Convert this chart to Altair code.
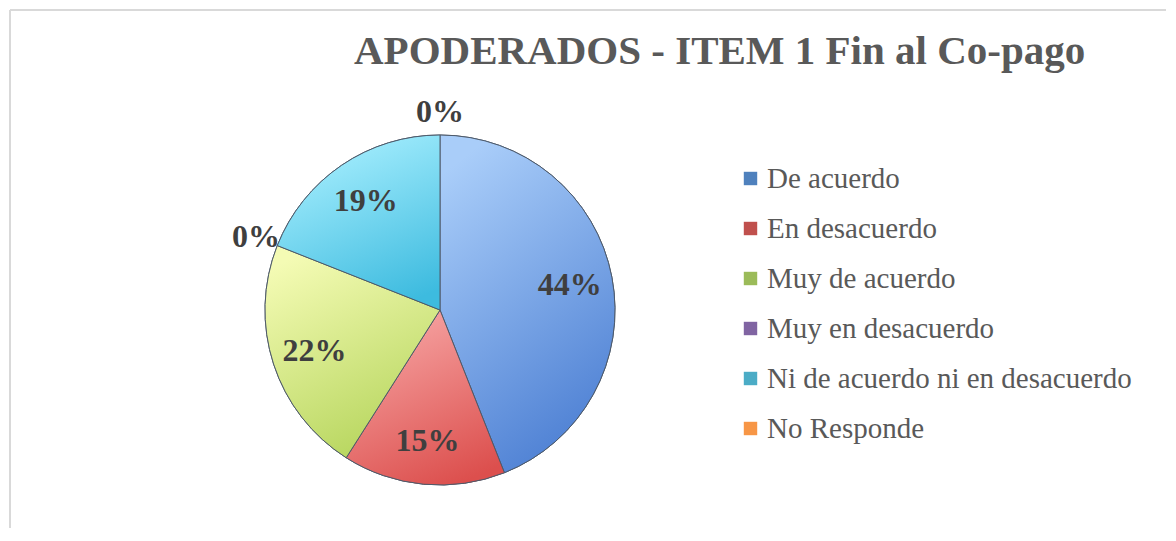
import altair as alt
import pandas as pd

categorias = [
    "De acuerdo",
    "En desacuerdo",
    "Muy de acuerdo",
    "Muy en desacuerdo",
    "Ni de acuerdo ni en desacuerdo",
    "No Responde",
]
porcentajes = [44, 15, 22, 0, 19, 0]
colores = ["#4F81BD", "#C0504D", "#9BBB59", "#8064A2", "#4BACC6", "#F79646"]
claros = ["#A9CDF9", "#F7A6A5", "#F4FBB4", "#C6B3E0", "#AAF0FF", "#FCCB9C"]
oscuros = ["#4A7DD2", "#DC4F4D", "#B4D45A", "#7E5FB0", "#3DBBDF", "#F08A30"]
titulo = "APODERADOS - ITEM 1 Fin al Co-pago"

df = pd.DataFrame({
    "categoria": categorias,
    "valor": porcentajes,
    "orden": list(range(len(categorias))),
})

CX, CY, R = 432, 302, 175
FONT = "Liberation Serif"
theta_scale = alt.Scale(domain=[0, 100])

base = alt.Chart(df).transform_window(
    fin="sum(valor)",
    sort=[alt.SortField("orden", order="ascending")],
    frame=[None, 0],
).transform_calculate(
    inicio="datum.fin - datum.valor",
    medio="datum.fin - datum.valor / 2",
    etiqueta="datum.valor + '%'",
    radio="datum.valor > 0 ? 132 : 198",
)

borde_sup = alt.Chart(df).transform_filter("datum.orden == 0").mark_rule(
    color="#D9D9D9", strokeWidth=2
).encode(x=alt.value(2), x2=alt.value(1158), y=alt.value(2))
borde_izq = alt.Chart(df).transform_filter("datum.orden == 0").mark_rule(
    color="#D9D9D9", strokeWidth=2
).encode(x=alt.value(2), y=alt.value(2), y2=alt.value(520))

solido = base.mark_arc(outerRadius=R, stroke="#4E5A6A", strokeWidth=1).encode(
    theta=alt.Theta("inicio:Q", stack=None, scale=theta_scale),
    theta2="fin:Q",
    color=alt.Color(
        "categoria:N",
        sort=categorias,
        scale=alt.Scale(domain=categorias, range=colores),
        legend=alt.Legend(
            title=None,
            orient="none",
            legendX=728,
            legendY=156,
            symbolType="square",
            symbolSize=180,
            symbolStrokeWidth=0,
            labelFont=FONT,
            labelFontSize=29,
            labelColor="#595959",
            labelOffset=2,
            labelLimit=600,
            rowPadding=20,
            padding=0,
        ),
    ),
    x=alt.value(CX),
    y=alt.value(CY),
)

degradados = []
for cat, v, c1, c2 in zip(categorias, porcentajes, claros, oscuros):
    if v <= 0:
        continue
    grad = alt.LinearGradient(
        gradient="linear",
        x1=0.3, y1=0, x2=0.7, y2=1,
        stops=[alt.GradientStop(offset=0, color=c1), alt.GradientStop(offset=1, color=c2)],
    )
    capa = base.transform_filter(alt.datum.categoria == cat).mark_arc(
        outerRadius=R, fill=grad, stroke="#4E5A6A", strokeWidth=1
    ).encode(
        theta=alt.Theta("inicio:Q", stack=None, scale=theta_scale),
        theta2="fin:Q",
        x=alt.value(CX),
        y=alt.value(CY),
    )
    degradados.append(capa)

textos = base.mark_text(
    font=FONT, fontSize=32, fontWeight="bold", color="#3F3F3F"
).encode(
    theta=alt.Theta("medio:Q", stack=None, scale=theta_scale),
    radius=alt.Radius("radio:Q", scale=None),
    text="etiqueta:N",
    x=alt.value(CX),
    y=alt.value(CY),
)

chart = alt.layer(borde_sup, borde_izq, solido, *degradados, textos).properties(
    width=1158,
    height=520,
    padding=0,
    autosize=alt.AutoSizeParams(type="none"),
    background="white",
    title=alt.TitleParams(
        text=titulo,
        anchor="start",
        dx=346,
        dy=69,
        font=FONT,
        fontSize=41,
        fontWeight="bold",
        color="#595959",
    ),
).configure_view(stroke=None)

chart.save("out.html", embed_options={"renderer": "svg", "actions": False})
